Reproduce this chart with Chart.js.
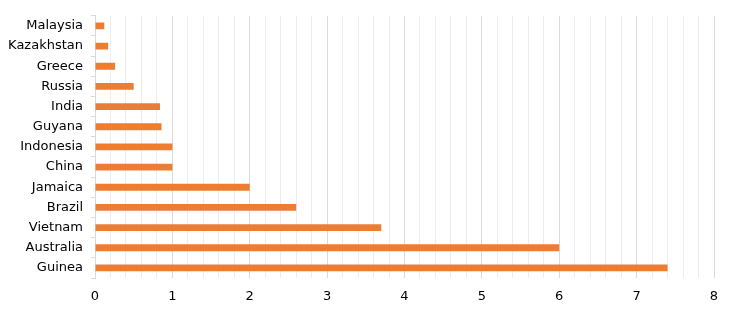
<html>
<head>
  <script src="https://cdn.jsdelivr.net/npm/chart.js"></script>
  <style>
    body { margin: 0; background: #ffffff; }
    #wrap { width: 732px; height: 311px; }
  </style>
</head>
<body>
  <div id="wrap"><canvas id="grafico"></canvas></div>
  <script>
    // paesi (dall'alto in basso) e valori
    var paesi = ["Malaysia", "Kazakhstan", "Greece", "Russia", "India", "Guyana", "Indonesia",
                 "China", "Jamaica", "Brazil", "Vietnam", "Australia", "Guinea"];
    var valori = [0.12, 0.17, 0.26, 0.5, 0.84, 0.86, 1.0, 1.0, 2.0, 2.6, 3.7, 6.0, 7.4];
    var asseMin = 0;
    var asseMax = 8;
    var passoMinore = 0.2;

    function isIntero(v) {
      return Math.abs(v - Math.round(v)) < 1e-6;
    }

    new Chart(document.getElementById('grafico'), {
      type: 'bar',
      data: {
        labels: paesi,
        datasets: [{
          data: valori,
          backgroundColor: '#ED7D31',
          borderWidth: 0,
          barPercentage: 0.34,
          categoryPercentage: 1
        }]
      },
      options: {
        indexAxis: 'y',
        responsive: true,
        maintainAspectRatio: false,
        animation: false,
        layout: { padding: { top: 11, right: 18, bottom: 0, left: 0 } },
        plugins: { legend: { display: false }, tooltip: { enabled: false } },
        scales: {
          x: {
            min: asseMin,
            max: asseMax,
            afterFit: function (scala) { scala.height = 33; },
            ticks: {
              stepSize: passoMinore,
              autoSkip: false,
              maxRotation: 0,
              padding: 11,
              color: '#000000',
              font: { family: 'DejaVu Sans', size: 13 },
              callback: function (v) { return isIntero(v) ? Math.round(v) : ''; }
            },
            grid: {
              drawTicks: false,
              color: function (ctx) {
                return isIntero(ctx.tick.value) ? '#d9d9d9' : '#ededed';
              }
            },
            border: { display: false }
          },
          y: {
            afterFit: function (scala) { scala.width = 95; },
            ticks: {
              padding: 8,
              color: '#000000',
              font: { family: 'DejaVu Sans', size: 13 }
            },
            grid: {
              offset: true,
              drawOnChartArea: false,
              tickLength: 4,
              color: '#d9d9d9'
            },
            border: { display: true, color: '#d9d9d9' }
          }
        }
      }
    });
  </script>
</body>
</html>
